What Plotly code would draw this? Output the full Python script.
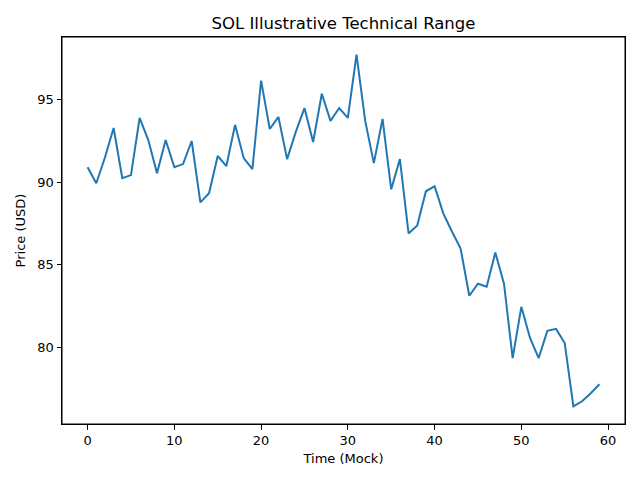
import plotly.graph_objects as go

time = list(range(60))
price = [90.91, 89.94, 91.5, 93.29, 90.24, 90.43, 93.9, 92.56, 90.55, 92.56,
         90.91, 91.1, 92.5, 88.78, 89.33, 91.59, 90.98, 93.48, 91.46, 90.79,
         96.16, 93.23, 93.96, 91.4, 93.05, 94.5, 92.44, 95.37, 93.72, 94.5,
         93.9, 97.74, 93.72, 91.16, 93.84, 89.57, 91.4, 86.89, 87.38, 89.45,
         89.76, 88.11, 87.01, 85.98, 83.11, 83.84, 83.66, 85.73, 83.84, 79.33,
         82.44, 80.55, 79.33, 80.98, 81.1, 80.24, 76.4, 76.71, 77.2, 77.74]

x_ticks = [0, 10, 20, 30, 40, 50, 60]
y_ticks = [80, 85, 90, 95]

fig = go.Figure(go.Scatter(x=time, y=price, mode="lines",
                           line=dict(color="#1f77b4", width=2)))

axis_common = dict(showgrid=False, zeroline=False, showline=True, linecolor="black",
                   linewidth=1, mirror=True, ticks="outside", ticklen=4.5,
                   tickcolor="black", tickwidth=1, automargin=False,
                   tickfont=dict(family="DejaVu Sans", size=13, color="black"))

fig.update_layout(
    width=640, height=480,
    paper_bgcolor="white", plot_bgcolor="white",
    margin=dict(l=54, r=23, t=29, b=64, autoexpand=False),
    title=dict(text="SOL Illustrative Technical Range", x=0.5, xanchor="center",
               xref="paper", y=1 - 15/480, yanchor="middle",
               font=dict(family="DejaVu Sans", size=16.5, color="black")),
    showlegend=False,
    xaxis=dict(range=[-2.95, 61.95], tickvals=x_ticks,
               title=dict(text="Time (Mock)", standoff=6,
                          font=dict(family="DejaVu Sans", size=13, color="black")),
               **axis_common),
    yaxis=dict(range=[75.33, 98.81], tickvals=y_ticks,
               title=dict(text="Price (USD)", standoff=8,
                          font=dict(family="DejaVu Sans", size=13, color="black")),
               **axis_common),
    shapes=[dict(type="rect", xref="paper", yref="paper", x0=0, x1=1, y0=0, y1=1,
                 line=dict(color="black", width=1), fillcolor="rgba(0,0,0,0)",
                 layer="above")],
)

fig.write_html("out.html")
